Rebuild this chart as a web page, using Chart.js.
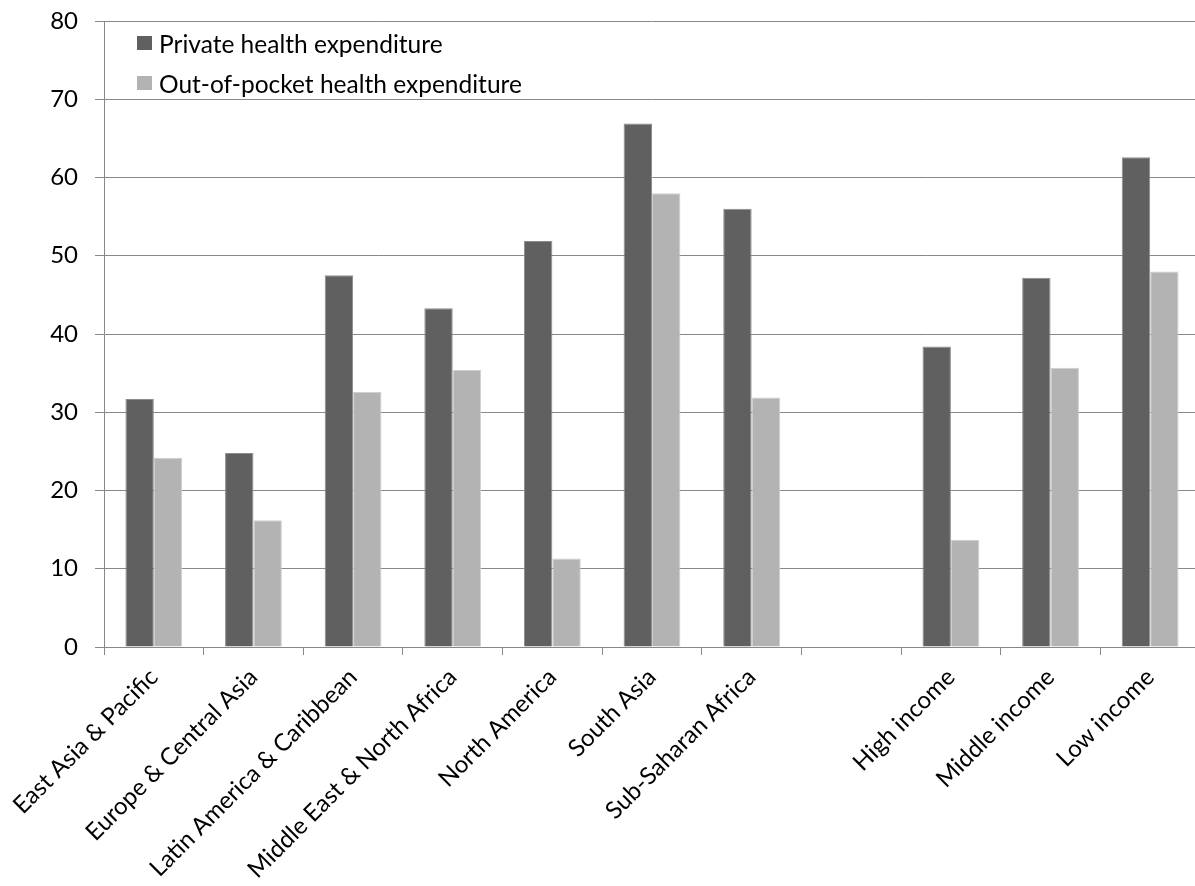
<!DOCTYPE html>
<html>
<head>
<meta charset="utf-8">
<script src="https://cdn.jsdelivr.net/npm/chart.js@4/dist/chart.umd.min.js"></script>
<style>
  html, body { margin: 0; padding: 0; background: #fff; overflow: hidden; }
  #wrap { position: relative; width: 1200px; height: 886px; }
  #legend { position: absolute; left: 137px; top: 23px; font-family: Lato, "Open Sans", sans-serif; font-size: 24.5px; color: #000; }
  #legend .item { display: flex; align-items: center; height: 40px; }
  #legend .sw { width: 15px; height: 14px; margin-right: 7px; }
</style>
</head>
<body>
<div id="wrap">
  <canvas id="c" width="1200" height="886" style="width:1200px;height:886px"></canvas>
  <div id="legend"></div>
</div>
<script>
const categories = ["East Asia & Pacific", "Europe & Central Asia", "Latin America & Caribbean", "Middle East & North Africa", "North America", "South Asia", "Sub-Saharan Africa", "", "High income", "Middle income", "Low income"];
const privateHealth = [31.7, 24.8, 47.5, 43.3, 51.9, 66.9, 56.0, null, 38.4, 47.2, 62.6];
const outOfPocket = [24.2, 16.2, 32.6, 35.4, 11.3, 58.0, 31.9, null, 13.7, 35.7, 48.0];
const seriesNames = ["Private health expenditure", "Out-of-pocket health expenditure"];
const seriesColors = ["#606060", "#b3b3b3"];
const yTicks = [0, 10, 20, 30, 40, 50, 60, 70, 80];

const FONT = 'Lato, "Open Sans", sans-serif';
const gridColor = '#888888';

const chart = new Chart(document.getElementById('c'), {
  type: 'bar',
  data: {
    labels: categories,
    datasets: [
      { label: seriesNames[0], data: privateHealth, backgroundColor: seriesColors[0], borderColor: '#8c8c8c', borderWidth: 1 },
      { label: seriesNames[1], data: outOfPocket, backgroundColor: seriesColors[1], borderColor: '#cfcfcf', borderWidth: 1 }
    ]
  },
  options: {
    responsive: false,
    devicePixelRatio: 1,
    animation: false,
    layout: { padding: { top: 21, right: 0, left: 0, bottom: 0 } },
    plugins: { legend: { display: false }, tooltip: { enabled: false } },
    datasets: { bar: { categoryPercentage: 0.57, barPercentage: 1.0 } },
    scales: {
      x: {
        offset: true,
        grid: { offset: true, drawOnChartArea: false, drawTicks: true, tickLength: 8, color: gridColor, lineWidth: 1 },
        border: { display: true, color: gridColor, width: 1 },
        ticks: { font: { family: FONT, size: 24 }, color: '#000', minRotation: 45, maxRotation: 45, padding: 8, autoSkip: false },
        afterFit: (s) => { s.height = 239; s.paddingLeft = 0; s.paddingRight = 0; }
      },
      y: {
        min: 0, max: 80,
        afterBuildTicks: (s) => { s.ticks = yTicks.map(v => ({ value: v })); },
        grid: { color: gridColor, lineWidth: 1, tickLength: 9, drawTicks: true },
        border: { display: true, color: gridColor, width: 1 },
        ticks: { font: { family: FONT, size: 24 }, color: '#000', padding: 17 },
        afterFit: (s) => { s.width = 104; s.paddingTop = 0; s.paddingBottom = 0; }
      }
    }
  }
});

const legend = document.getElementById('legend');
chart.data.datasets.forEach((ds) => {
  const it = document.createElement('div');
  it.className = 'item';
  const sw = document.createElement('span');
  sw.className = 'sw';
  sw.style.background = ds.backgroundColor;
  const tx = document.createElement('span');
  tx.textContent = ds.label;
  it.appendChild(sw); it.appendChild(tx);
  legend.appendChild(it);
});
</script>
</body>
</html>
